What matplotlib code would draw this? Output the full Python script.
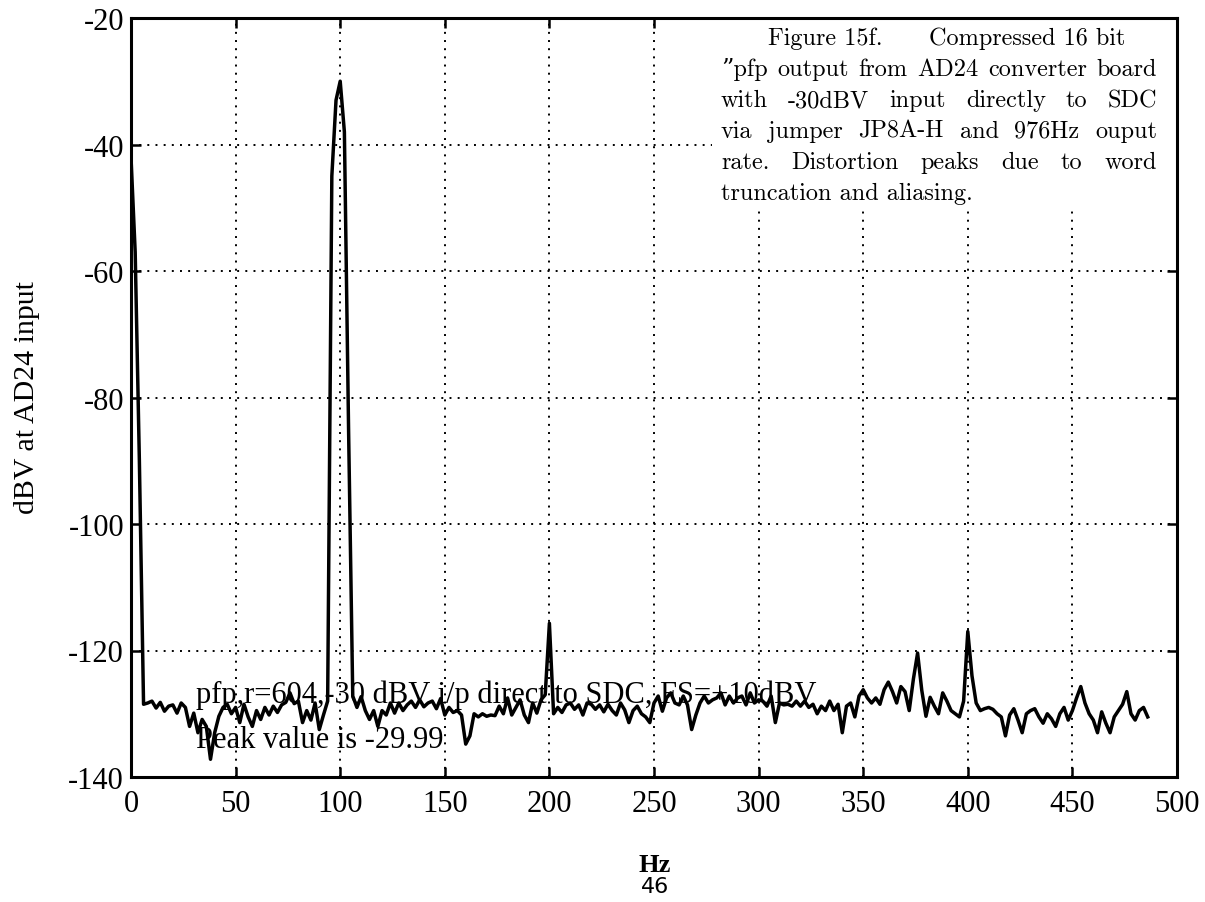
import numpy as np
import matplotlib.pyplot as plt
from matplotlib.patches import Rectangle

plt.rcParams['font.family'] = ['Liberation Serif', 'DejaVu Serif']
plt.rcParams['axes.unicode_minus'] = False

# spectrum, one value every 2 Hz from 0 Hz
bin_step_hz = 2.0
level_dbv = [
    -42.0, -57.0, -90.0, -128.5, -128.3, -128.0, -129.1, -128.2, -129.6, -128.8,
    -128.6, -129.9, -128.3, -129.0, -132.0, -129.9, -133.0, -130.9, -132.0, -137.2,
    -133.0, -130.4, -129.0, -128.5, -130.0, -129.0, -131.4, -128.5, -130.5, -132.0,
    -129.5, -130.9, -129.0, -130.2, -128.8, -129.8, -128.6, -128.2, -126.7, -128.4,
    -128.0, -131.4, -129.5, -131.0, -128.3, -132.5, -130.2, -128.0, -45.0, -33.0,
    -29.99, -38.0, -85.0, -127.2, -129.0, -127.3, -129.5, -130.9, -129.5, -132.0,
    -129.5, -130.2, -128.3, -129.9, -128.3, -129.5, -128.6, -128.0, -129.0, -127.8,
    -128.9, -128.3, -128.0, -129.2, -127.6, -130.2, -129.0, -129.8, -129.5, -130.2,
    -134.8, -133.5, -130.0, -130.5, -130.0, -130.4, -130.2, -130.3, -128.8, -130.0,
    -127.5, -130.2, -129.0, -127.8, -130.2, -131.4, -128.3, -129.9, -127.8, -127.0,
    -115.7, -130.0, -129.0, -129.8, -128.6, -128.3, -129.3, -128.6, -130.2, -128.3,
    -128.5, -129.3, -128.6, -129.7, -128.5, -129.5, -130.2, -128.3, -129.4, -131.4,
    -129.5, -128.8, -130.0, -130.5, -131.4, -128.3, -127.2, -129.6, -127.5, -126.7,
    -128.3, -128.6, -127.2, -128.6, -132.5, -130.2, -128.3, -127.2, -128.3, -127.8,
    -127.5, -126.7, -128.6, -127.2, -128.3, -127.5, -127.2, -128.6, -126.7, -128.3,
    -127.8, -128.0, -128.8, -127.2, -131.4, -128.3, -128.6, -128.5, -128.8, -128.0,
    -128.8, -128.0, -129.0, -128.5, -130.0, -128.8, -129.5, -128.0, -129.5, -128.5,
    -133.0, -128.8, -128.3, -130.5, -127.2, -126.2, -127.5, -128.3, -127.5, -128.5,
    -126.2, -125.0, -126.5, -128.3, -125.7, -126.5, -129.5, -124.5, -120.4, -126.3,
    -130.4, -127.4, -128.8, -130.0, -126.7, -128.0, -129.5, -130.0, -130.5, -128.0,
    -117.0, -124.0, -128.3, -129.5, -129.2, -129.0, -129.3, -130.0, -130.5, -133.5,
    -130.2, -129.2, -131.0, -133.0, -130.0, -129.5, -129.2, -130.5, -131.5, -130.0,
    -130.8, -132.0, -130.0, -129.0, -131.0, -129.5, -127.5, -125.7, -128.3, -130.0,
    -131.0, -133.0, -129.7, -131.5, -133.0, -130.5, -129.5, -128.5, -126.5, -130.0,
    -131.0, -129.5, -129.0, -130.5,
]
freq_hz = np.arange(len(level_dbv)) * bin_step_hz

x_ticks = list(range(0, 501, 50))
y_ticks = list(range(-140, -19, 20))

caption = [
    ['Figure 15f.', 'Compressed 16 bit'],
    ['\u201dpfp', 'output', 'from', 'AD24', 'converter', 'board'],
    ['with', '-30dBV', 'input', 'directly', 'to', 'SDC'],
    ['via', 'jumper', 'JP8A-H', 'and', '976Hz', 'ouput'],
    ['rate.', 'Distortion', 'peaks', 'due', 'to', 'word'],
    ['truncation and aliasing.'],
]
note1 = 'pfp,r=604,-30 dBV i/p direct to SDC, FS=+10dBV'
note2 = 'Peak value is -29.99'

W, H = 1205, 903
fig = plt.figure(figsize=(W / 100, H / 100), dpi=100)
ax = fig.add_axes([131 / W, 1 - 778 / H, (1177 - 131) / W, (778 - 19) / H])

ax.plot(freq_hz, level_dbv, color='black', lw=2.5, solid_joinstyle='round', zorder=3)
ax.set_xlim(0, 500)
ax.set_ylim(-140, -20)
ax.set_xticks(x_ticks)
ax.set_yticks(y_ticks)
ax.grid(True, color='black', linestyle=(0, (1, 3.2)), linewidth=1.4)
ax.tick_params(direction='in', length=7, width=1.8, top=True, right=True,
               labelsize=22, colors='black')
ax.tick_params(axis='x', pad=9)
ax.tick_params(axis='y', pad=5)
for s in ax.spines.values():
    s.set_linewidth(2.2)

# white area behind the caption hides the grid
ax.add_patch(Rectangle((712 / W, 1 - 212 / H), (1177 - 712) / W, (212 - 19) / H,
                       transform=fig.transFigure, facecolor='white',
                       edgecolor='none', zorder=1.8))

fig.text(27 / W, 1 - 398 / H, 'dBV at AD24 input', rotation=90,
         ha='center', va='center', fontsize=21.5)
fig.text(655 / W, 1 - 866 / H, 'Hz', ha='center', va='center', fontsize=19,
         fontweight='bold')
fig.text(655 / W, 1 - 887 / H, '46', ha='center', va='center', fontsize=16,
         family='DejaVu Sans')

fig.text(196 / W, 1 - 703 / H, note1, va='baseline', fontsize=22, zorder=4)
fig.text(196 / W, 1 - 748 / H, note2, va='baseline', fontsize=22, zorder=4)

# caption, justified line by line; size picked so line 2 fills its width
rend = fig.canvas.get_renderer()
cap_family = ['cmr10', 'DejaVu Serif']
probe = fig.text(0, 0, ' '.join(caption[1]), fontsize=10, family=cap_family)
cap_size = 10 * (1157 - 721) / probe.get_window_extent(rend).width * 0.985
probe.remove()
cap_font = dict(fontsize=cap_size, family=cap_family, va='baseline')
base = 45
for i, words in enumerate(caption):
    y = 1 - (base + 31 * i) / H
    arts = [fig.text(0, y, w, **cap_font) for w in words]
    widths = [a.get_window_extent(rend).width for a in arts]
    if i == 0:
        x0, x1 = 768, 1125
    else:
        x0, x1 = 721, 1157
    if len(words) == 1:
        arts[0].set_x(x0 / W)
        continue
    gap = (x1 - x0 - sum(widths)) / (len(words) - 1)
    x = x0
    for a, wd in zip(arts, widths):
        a.set_x(x / W)
        x += wd + gap

fig.savefig('out.png', dpi=100)
